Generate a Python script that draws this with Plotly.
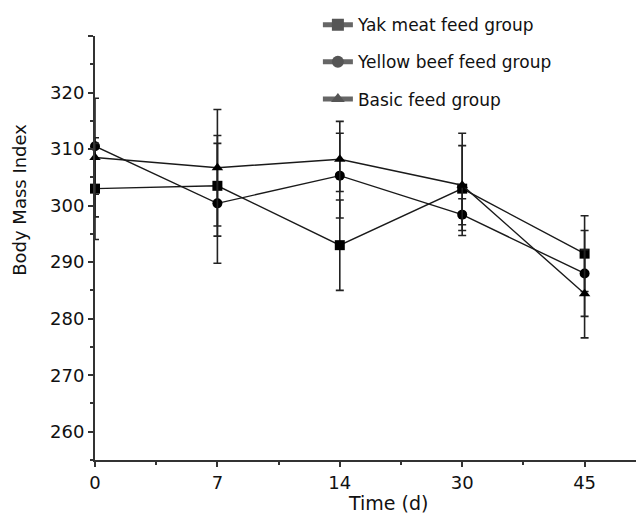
import plotly.graph_objects as go

days = ["0", "7", "14", "30", "45"]
x_idx = [0, 1, 2, 3, 4]

yak = [303.0, 303.5, 293.0, 303.0, 291.5]
yak_plus = [9.0, 8.9, 8.0, 9.8, 6.7]
yak_minus = [9.0, 8.9, 8.0, 8.3, 6.7]

yellow = [310.5, 300.4, 305.3, 298.4, 288.0]
yellow_plus = [8.5, 10.6, 7.5, 2.8, 7.6]
yellow_minus = [8.5, 10.6, 7.5, 2.8, 7.6]

basic = [308.5, 306.7, 308.2, 303.6, 284.4]
basic_plus = [2.5, 10.3, 6.7, 7.0, 7.8]
basic_minus = [10.5, 10.3, 5.7, 7.0, 7.8]

names = ["Yak meat feed group", "Yellow beef feed group", "Basic feed group"]
symbols = ["square", "circle", "triangle-up"]
series = [(yak, yak_plus, yak_minus), (yellow, yellow_plus, yellow_minus), (basic, basic_plus, basic_minus)]

y_ticks = [260, 270, 280, 290, 300, 310, 320, 330]
y_ticktext = ["260", "270", "280", "290", "300", "310", "320", ""]

FONT = "DejaVu Sans, Verdana, sans-serif"

fig = go.Figure()
for (vals, ep, em), sym in zip(series, symbols):
    fig.add_trace(go.Scatter(
        x=x_idx, y=vals, mode="lines+markers", showlegend=False,
        line=dict(color="#1a1a1a", width=1.4),
        marker=dict(symbol=sym, size=10, color="#000000"),
        error_y=dict(type="data", array=ep, arrayminus=em, symmetric=False,
                     color="#222222", thickness=1.6, width=4),
        cliponaxis=False,
    ))

for name, sym in zip(names, symbols):
    fig.add_trace(go.Scatter(
        x=[None], y=[None], mode="lines+markers", name=name, legendgroup=name,
        line=dict(color="#666666", width=1.5),
        marker=dict(symbol=sym, size=10, color="#555555"),
    ))

fig.update_layout(
    width=636, height=515,
    margin=dict(l=95, r=0, t=36, b=55, autoexpand=False),
    paper_bgcolor="white", plot_bgcolor="white",
    font=dict(family=FONT, size=18, color="#111111"),
    showlegend=True,
    legend=dict(x=0.412, y=1.068, xanchor="left", yanchor="top",
                bgcolor="rgba(0,0,0,0)", font=dict(size=17, family=FONT),
                tracegroupgap=12, itemsizing="constant"),
    xaxis=dict(range=[0, 4.42], tickmode="array", tickvals=x_idx, ticktext=days,
               showgrid=False, zeroline=False, showline=True, linecolor="#333333", linewidth=2,
               ticks="outside", ticklen=5, tickwidth=2, tickcolor="#333333",
               minor=dict(dtick=0.5, tick0=0, ticks="outside", ticklen=3, tickwidth=2, tickcolor="#333333", showgrid=False),
               tickfont=dict(size=18)),
    yaxis=dict(range=[255, 330], tickmode="array", tickvals=y_ticks, ticktext=y_ticktext,
               showgrid=False, zeroline=False, showline=True, linecolor="#333333", linewidth=2,
               ticks="outside", ticklen=5, tickwidth=2, tickcolor="#333333",
               minor=dict(dtick=5, tick0=255, ticks="outside", ticklen=3, tickwidth=2, tickcolor="#333333", showgrid=False),
               tickfont=dict(size=18)),
    annotations=[
        dict(text="Time (d)", xref="paper", yref="paper", x=0.542, y=-0.101,
             xanchor="center", yanchor="middle", showarrow=False, font=dict(size=19, family=FONT)),
        dict(text="Body Mass Index", xref="paper", yref="paper", x=-0.141, y=0.613,
             xanchor="center", yanchor="middle", textangle=-90, showarrow=False, font=dict(size=18, family=FONT)),
    ],
)

fig.write_html("out.html", config={"displayModeBar": False},
               post_script="document.body.style.margin='0';document.body.style.overflow='hidden';")
